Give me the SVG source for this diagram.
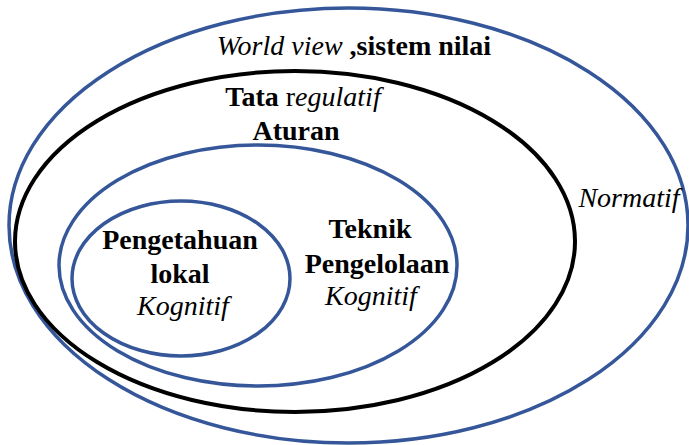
<svg xmlns="http://www.w3.org/2000/svg" width="689" height="445" viewBox="0 0 689 445">
  <style>
    .blue { fill: none; stroke: #35579a; stroke-width: 3.5; }
    .black { fill: none; stroke: #000; stroke-width: 4; }
    text { font-family: "Liberation Serif", "Times New Roman", serif; font-size: 28px; fill: #000; }
    .b { font-weight: bold; }
    .i { font-style: italic; }
    .m { text-anchor: middle; }
  </style>
  <rect width="689" height="445" fill="#fff"/>

  <!-- outer ring: world view, normative level -->
  <g id="normatif">
    <ellipse class="blue" cx="348.5" cy="225.5" rx="339.5" ry="217.5"/>
    <text class="m" x="354" y="55"><tspan class="i">World view </tspan><tspan class="b">,sistem nilai</tspan></text>
    <text class="i m" x="629" y="207">Normatif</text>
  </g>

  <!-- regulative level -->
  <g id="regulatif">
    <ellipse class="black" cx="295" cy="241.5" rx="280" ry="170.5"/>
    <text class="m" x="303" y="106"><tspan class="b">Tata </tspan><tspan>r</tspan><tspan class="i">egulatif</tspan></text>
    <text class="b m" x="296" y="140">Aturan</text>
  </g>

  <!-- management techniques -->
  <g id="teknik">
    <ellipse class="blue" cx="258" cy="265.5" rx="199" ry="120.5"/>
    <text class="b m" x="370" y="238">Teknik</text>
    <text class="b m" x="377" y="273">Pengelolaan</text>
    <text class="i m" x="371" y="305">Kognitif</text>
  </g>

  <!-- local knowledge core -->
  <g id="pengetahuan">
    <ellipse class="blue" cx="181" cy="278.5" rx="109" ry="77.5"/>
    <text class="b m" x="180" y="249">Pengetahuan</text>
    <text class="b m" x="180" y="283">lokal</text>
    <text class="i m" x="183" y="315">Kognitif</text>
  </g>

  <g id="connectors"/>
</svg>
